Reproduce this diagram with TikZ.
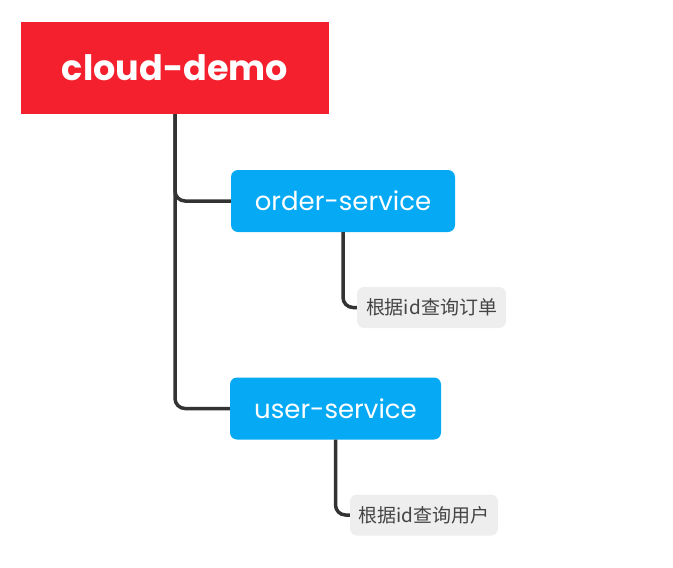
\documentclass[tikz,border=0pt]{standalone}
\usepackage{fontspec}
\setmainfont{Poppins}
\newfontfamily\cjk{Noto Sans CJK SC}
\usetikzlibrary{positioning}
\definecolor{rootred}{HTML}{F5202E}
\definecolor{svcblue}{HTML}{06A9F4}
\definecolor{leafgray}{HTML}{EEEEEE}
\definecolor{linedark}{HTML}{333333}
\definecolor{leaftext}{HTML}{444444}
\tikzset{
  rootbox/.style={fill=rootred, text=white, minimum width=308pt, minimum height=92pt,
    inner sep=0pt, font=\fontsize{35}{40}\selectfont\bfseries},
  svcbox/.style={fill=svcblue, text=white, rounded corners=7pt, minimum height=62pt,
    inner sep=0pt, font=\fontsize{26}{30}\selectfont},
  leafbox/.style={fill=leafgray, text=leaftext, rounded corners=7pt, minimum height=41pt,
    inner sep=0pt, font=\cjk\fontsize{19}{24}\selectfont},
  branch/.style={draw=linedark, line width=3.5pt, rounded corners=10pt}
}
\begin{document}
\begin{tikzpicture}[x=1pt, y=-1pt]
\useasboundingbox (0,0) rectangle (673,568);
% root and the two services
\node[rootbox] (root) at (175,68) {cloud-demo};
\node[svcbox, minimum width=224pt] (order) at (343,201) {order-service};
\node[svcbox, minimum width=211pt] (user) at (335.5,408.5) {user-service};
% leaves
\node[leafbox, minimum width=149pt] (orderleaf) at (431.5,307.5) {根据id查询订单};
\node[leafbox, minimum width=148pt] (userleaf) at (424,515) {根据id查询用户};

% connectors
\draw[branch] (root.south) |- (user.west);
\draw[branch] (root.south) |- (order.west);
\draw[branch] (order.south) |- (orderleaf.west);
\draw[branch] (user.south) |- (userleaf.west);
\end{tikzpicture}
\end{document}
